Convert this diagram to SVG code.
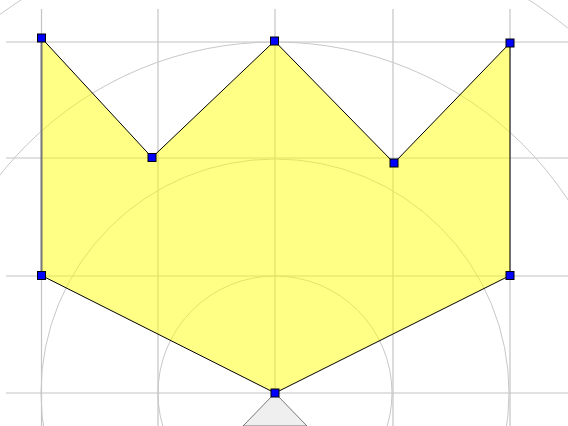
<svg xmlns="http://www.w3.org/2000/svg" width="568" height="426" viewBox="0 0 568 426">
<style>
.grid{stroke:#c4c4c4;stroke-width:1.2;fill:none}
.circ{stroke:#c8c8c8;stroke-width:1;fill:none}
.pt{fill:#0000ff;stroke:#000;stroke-width:1}
</style>
<rect width="568" height="426" fill="#fff"/>
<g id="grid">
<line class="grid" x1="41.5" y1="9" x2="41.5" y2="426"/>
<line class="grid" x1="158" y1="9" x2="158" y2="426"/>
<line class="grid" x1="275" y1="9" x2="275" y2="426"/>
<line class="grid" x1="393" y1="9" x2="393" y2="426"/>
<line class="grid" x1="510" y1="9" x2="510" y2="426"/>
<line class="grid" x1="6" y1="42" x2="568" y2="42"/>
<line class="grid" x1="6" y1="158" x2="568" y2="158"/>
<line class="grid" x1="6" y1="276" x2="568" y2="276"/>
<line class="grid" x1="6" y1="393" x2="568" y2="393"/>
</g>
<g id="circles">
<circle class="circ" cx="275" cy="393" r="117"/>
<circle class="circ" cx="275" cy="393" r="234"/>
<circle class="circ" cx="275" cy="393" r="351"/>
<circle class="circ" cx="275" cy="393" r="468"/>
</g>
<g id="wedge">
<polygon points="275,393 243,426 307,426" fill="#efefef" stroke="#777" stroke-width="1"/>
</g>
<g id="crown">
<polygon points="41.5,38 152,157.5 274.5,41 394,163 510,43 510,275.5 275,393 41.5,275.5" fill="#ffff00" fill-opacity="0.48" stroke="none"/>
<polyline points="41.5,275.5 41.5,38 152,157.5 274.5,41 394,163 510,43 510,275.5 275,393 41.5,275.5" fill="none" stroke="#000" stroke-width="1"/>
<line x1="41.5" y1="38" x2="41.5" y2="275.5" stroke="#777" stroke-width="2"/>
</g>
<g id="points">
<rect class="pt" x="37.5" y="34" width="8" height="8"/>
<rect class="pt" x="148" y="153.5" width="8" height="8"/>
<rect class="pt" x="270.5" y="37" width="8" height="8"/>
<rect class="pt" x="390" y="159" width="8" height="8"/>
<rect class="pt" x="506" y="39" width="8" height="8"/>
<rect class="pt" x="506" y="271.5" width="8" height="8"/>
<rect class="pt" x="37.5" y="271.5" width="8" height="8"/>
<rect class="pt" x="271" y="389" width="8" height="8"/>
</g>
</svg>
